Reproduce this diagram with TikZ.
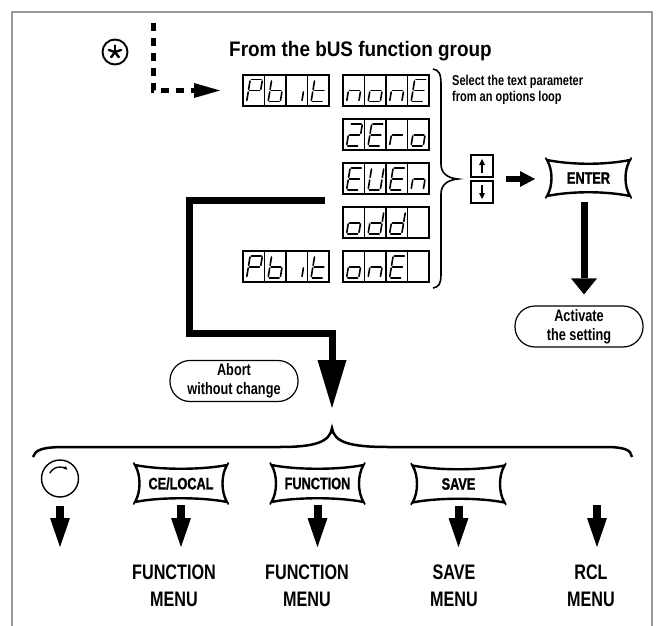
\documentclass[tikz,border=0pt]{standalone}
\usepackage{fontspec}
\setmainfont{Liberation Sans}[FakeStretch=0.77]
\newfontfamily\ttlfam{Liberation Sans}[FakeStretch=0.9]
\newfontfamily\keyfam{Liberation Sans}[FakeStretch=0.77, FakeBold=1.2]
\usetikzlibrary{arrows.meta,calc}

\newcommand{\keyfont}{\keyfam\fontsize{16.5}{18}\selectfont\bfseries}
\newcommand{\pillfont}{\fontsize{16.5}{19}\selectfont\bfseries}
\newcommand{\menufont}{\fontsize{21}{27}\selectfont\bfseries}
\newcommand{\ttlfont}{\ttlfam\fontsize{21}{25}\selectfont\bfseries}
\newcommand{\selfont}{\fontsize{14.3}{15.5}\selectfont\bfseries}

\tikzset{
  frame/.style={draw=black!40, line width=1.8pt},
  disp/.style={draw, line width=2pt, minimum width=86pt, minimum height=31pt, inner sep=0pt, outer sep=0pt},
  segline/.style={line width=1.6pt, line cap=round, line join=round},
  keynode/.style={inner sep=0pt, outer sep=0pt, minimum width=92pt, minimum height=37pt, font=\keyfont},
  keyline/.style={line width=2.4pt, line join=miter},
  keytick/.style={line width=1.3pt},
  smallkey/.style={draw, line width=2.2pt, minimum size=22pt, inner sep=0pt, outer sep=0pt},
  pill/.style={draw, line width=1.2pt, rounded corners=20pt, minimum width=128pt, minimum height=41pt, inner sep=0pt, align=center, font=\pillfont},
  thickconn/.style={line width=7pt, line join=miter, -{Triangle[length=48pt,width=29pt,line width=0pt]}},
  fatarrow/.style={line width=6pt, -{Triangle[length=15pt,width=16pt,line width=0pt]}},
  downarrow/.style={line width=8pt, -{Triangle[length=29pt,width=20pt,line width=0pt]}},
  vertarrow/.style={line width=7pt, -{Triangle[length=16pt,width=26pt,line width=0pt]}},
  dashconn/.style={line width=5pt, dash pattern=on 8pt off 7pt, -{Triangle[length=26pt,width=15pt,line width=0pt]}},
  bracepath/.style={line width=2.5pt},
  thinbrace/.style={line width=1.6pt},
  menulabel/.style={anchor=north, inner sep=0pt, align=center, font=\menufont},
}

% seven-segment pieces (local frame: u right, v down, slanted)
\newcommand{\sega}{\draw[segline] (0.1,0) -- (0.9,0);}
\newcommand{\segb}{\draw[segline] (1,0.06) -- (1,0.44);}
\newcommand{\segc}{\draw[segline] (1,0.56) -- (1,0.94);}
\newcommand{\segd}{\draw[segline] (0.1,1) -- (0.9,1);}
\newcommand{\sege}{\draw[segline] (0,0.56) -- (0,0.94);}
\newcommand{\segf}{\draw[segline] (0,0.06) -- (0,0.44);}
\newcommand{\segg}{\draw[segline] (0.1,0.5) -- (0.9,0.5);}
\newcommand{\segz}{}
\newcommand{\segdigit}[3]{\begin{scope}[shift={(#1+7.2,#2+4.7)},x={(12.2pt,0pt)},y={(-3.6pt,-22pt)}]\foreach \s in {#3}{\csname seg\s\endcsname}\end{scope}}
\newcommand{\sevdisp}[7]{%
  \node[disp] (#1) at (#2+43,#3+15.5) {};
  \foreach \k in {1,2,3} \draw[line width=1.8pt] (#2+\k*21.5,#3) -- (#2+\k*21.5,#3+31);
  \segdigit{#2}{#3}{#4}\segdigit{#2+21.5}{#3}{#5}\segdigit{#2+43}{#3}{#6}\segdigit{#2+64.5}{#3}{#7}}
\newcommand{\cushion}[1]{%
  \draw[keyline] (#1.north west)
    .. controls ($(#1.north west)+(25,5)$) and ($(#1.north east)+(-25,5)$) .. (#1.north east)
    .. controls ($(#1.north east)+(-6,10)$) and ($(#1.south east)+(-6,-10)$) .. (#1.south east)
    .. controls ($(#1.south east)+(-25,-5)$) and ($(#1.south west)+(25,-5)$) .. (#1.south west)
    .. controls ($(#1.south west)+(6,-10)$) and ($(#1.north west)+(6,10)$) .. cycle;
  \draw[keytick] (#1.north west) -- ++(-1.5,-2.5);
  \draw[keytick] (#1.north east) -- ++(1.5,-2.5);
  \draw[keytick] (#1.south west) -- ++(-1.5,2.5);
  \draw[keytick] (#1.south east) -- ++(1.5,2.5);}

\begin{document}
\begin{tikzpicture}[x=1pt,y=-1pt]
\useasboundingbox (0,0) rectangle (659,626);
\fill[white] (0,0) rectangle (659,626);
\draw[frame] (12,626) -- (12,12) -- (652,12) -- (652,626);

% circled asterisk
\node[circle, draw, line width=1.9pt, minimum size=25pt, inner sep=0pt] (star) at (115,52) {};
\foreach \a in {270,342,54,126,198} \draw[line width=2.4pt, line cap=round] (star.center) -- ++(\a:6.5);

% title
\node[anchor=base west, inner sep=0pt, font=\ttlfont] (title) at (229,57) {From the bUS function group};

% displays
\sevdisp{dpbitA}{243}{75}{a,b,e,f,g}{c,d,e,f,g}{c}{d,e,f,g}
\sevdisp{dnone}{343}{75}{c,e,g}{c,d,e,g}{c,e,g}{a,d,e,f,g}
\sevdisp{dzero}{343}{119}{a,b,d,e,g}{a,d,e,f,g}{e,g}{c,d,e,g}
\sevdisp{deven}{343}{163}{a,d,e,f,g}{b,c,d,e,f}{a,d,e,f,g}{c,e,g}
\sevdisp{dodd}{343}{207}{c,d,e,g}{b,c,d,e,g}{b,c,d,e,g}{z}
\sevdisp{done}{343}{251}{c,d,e,g}{c,e,g}{a,d,e,f,g}{z}
\sevdisp{dpbitB}{243}{251}{a,b,e,f,g}{c,d,e,f,g}{c}{d,e,f,g}

% dashed entry connector
\coordinate (dstart) at (153,23);
\draw[dashconn, shorten >=23pt] (dstart) |- (dpbitA.west);

% options brace and text
\draw[thinbrace] (433,69) .. controls (439,70) and (441,74) .. (441,84) -- (441,164)
  .. controls (441,173) and (447,178) .. (458,179)
  .. controls (447,180) and (441,185) .. (441,194) -- (441,274)
  .. controls (441,284) and (439,287) .. (433,288);
\node[anchor=north west, inner sep=0pt, align=left, font=\selfont] (seltext) at (452,75) {Select the text parameter\\from an options loop};

% up/down keys
\node[smallkey] (upkey) at (482,166) {};
\node[smallkey] (downkey) at (482,192) {};
\draw[line width=2pt, -{Triangle[length=6pt,width=6pt,line width=0pt]}] ([yshift=-7pt]upkey.center) -- ([yshift=7pt]upkey.center);
\draw[line width=2pt, -{Triangle[length=6pt,width=6pt,line width=0pt]}] ([yshift=7pt]downkey.center) -- ([yshift=-7pt]downkey.center);

% ENTER
\node[keynode, minimum width=83pt, minimum height=36pt] (enter) at (588.5,178) {ENTER};
\cushion{enter}
\coordinate (kmid) at ($(upkey.south east)!0.5!(downkey.north east)$);
\draw[fatarrow, shorten <=13pt, shorten >=12pt] (kmid) -- (kmid -| enter.west);

% Activate
\node[pill] (activate) at (579,326.5) {Activate\\the setting};
\coordinate (entdn) at ([xshift=-4.5pt]enter.south);
\draw[vertarrow, shorten <=6pt, shorten >=11pt] (entdn) -- (entdn |- activate.north);

% abort path
\coordinate (abortstart) at (325,200);
\coordinate (acorner) at (189,333);
\coordinate (btip) at (332,428);
\draw[thickconn, shorten >=20pt] (abortstart) -| (acorner) -| (btip);
\node[pill] (abort) at (234,381) {Abort\\without change};

% bottom brace
\draw[bracepath] (33,457) .. controls (35,450) and (42,447) .. (65,447) -- (280,447)
  .. controls (315,447) and (330,442) .. (btip)
  .. controls (334,442) and (349,447) .. (388,447) -- (605,447)
  .. controls (625,447) and (631,450) .. (632,457);

% bottom row
\node[circle, draw, line width=1.4pt, minimum size=37pt, inner sep=0pt, outer sep=0pt] (knob) at (60,478.5) {};
\draw[line width=1.3pt, -{Stealth[length=4pt,width=4pt]}] ([shift={(207:11.5)}]knob.center) arc[start angle=207, end angle=310, radius=11.5];
\node[keynode] (cekey) at (181,483.5) {CE/LOCAL};
\cushion{cekey}
\node[keynode] (funckey) at (317.5,483.5) {FUNCTION};
\cushion{funckey}
\node[keynode] (savekey) at (458.5,484) {SAVE};
\cushion{savekey}

\node[menulabel] (celabel) at (174,565) {FUNCTION\\MENU};
\node[menulabel] (funclabel) at (307,565) {FUNCTION\\MENU};
\node[menulabel] (savelabel) at (454,565) {SAVE\\MENU};
\node[menulabel] (rcllabel) at (591,565) {RCL\\MENU};

\coordinate (knobtip) at (60,547);
\draw[downarrow, shorten <=8.5pt] (knob.south) -- (knobtip);
\draw[downarrow, shorten <=3pt, shorten >=18pt] (cekey.south) -- (cekey.south |- celabel.north);
\draw[downarrow, shorten <=3pt, shorten >=18pt] (funckey.south) -- (funckey.south |- funclabel.north);
\draw[downarrow, shorten <=3pt, shorten >=18pt] (savekey.south) -- (savekey.south |- savelabel.north);
\coordinate (rcltop) at (597,505);
\draw[downarrow, shorten >=18pt] (rcltop) -- (rcltop |- rcllabel.north);
\end{tikzpicture}
\end{document}
